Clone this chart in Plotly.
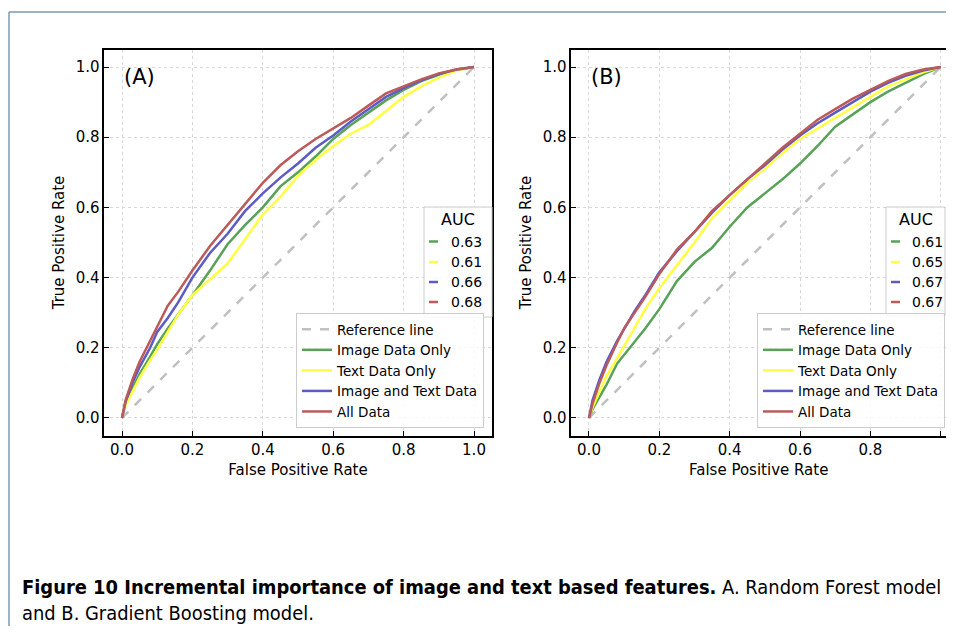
"""
ROC curves - incremental importance of image / text features (Plotly)
"""

import plotly.graph_objects as go

# page body has an 8px margin: the figure sits at (8, 8) and fits inside it
OFF = 8
W, H = 954 - 2 * OFF, 634 - 2 * OFF

# ---- data ----
series_names = ["Image Data Only", "Text Data Only", "Image and Text Data", "All Data"]
series_colors = ["#58a258", "#ffff44", "#5c5cc4", "#bc5a5a"]

fpr = [0, .01, .03, .05, .08, .1, .13, .16, .2, .25, .3, .35, .4,
       .45, .5, .55, .6, .65, .7, .75, .8, .85, .9, .95, 1]

# (A) Random Forest
a_image = [0, .04, .085, .125, .175, .21, .255, .295, .35, .42, .495, .55, .60,
           .66, .70, .745, .795, .835, .87, .905, .935, .96, .978, .992, 1]
a_text = [0, .035, .075, .115, .165, .195, .245, .295, .35, .395, .44, .51, .58,
          .63, .69, .735, .775, .81, .835, .875, .915, .945, .97, .99, 1]
a_both = [0, .045, .10, .145, .20, .245, .285, .33, .40, .47, .525, .59, .64,
          .685, .725, .77, .805, .845, .88, .915, .94, .962, .98, .993, 1]
a_all = [0, .05, .11, .16, .22, .26, .32, .36, .42, .49, .55, .61, .67,
         .72, .76, .795, .825, .855, .89, .925, .945, .965, .982, .993, 1]
auc_a = ["0.63", "0.61", "0.66", "0.68"]

# (B) Gradient Boosting
b_image = [0, .025, .06, .095, .155, .18, .215, .255, .31, .39, .445, .485, .545,
           .60, .64, .68, .725, .775, .83, .865, .90, .93, .955, .98, 1]
b_text = [0, .03, .075, .12, .17, .205, .26, .31, .37, .435, .50, .57, .62,
          .67, .71, .755, .795, .825, .855, .885, .915, .945, .965, .985, 1]
b_both = [0, .05, .11, .16, .22, .255, .305, .35, .415, .475, .53, .585, .635,
          .68, .72, .765, .805, .84, .87, .90, .93, .955, .975, .99, 1]
b_all = [0, .04, .10, .15, .215, .255, .30, .345, .41, .48, .53, .59, .635,
         .68, .725, .77, .81, .85, .88, .91, .935, .96, .98, .993, 1]
auc_b = ["0.61", "0.65", "0.67", "0.67"]

ref_line = [0, 1]
ticks = [0, 0.2, 0.4, 0.6, 0.8, 1.0]
tick_text = ["0.0", "0.2", "0.4", "0.6", "0.8", "1.0"]


def px(x):
    return (x - OFF) / W


def py(y):
    return 1 - (y - OFF) / H


FONT = "DejaVu Sans"

fig = go.Figure()

panels = [
    ("x", "y", "legend", [a_image, a_text, a_both, a_all]),
    ("x2", "y2", "legend2", [b_image, b_text, b_both, b_all]),
]
for xa, ya, leg, curves in panels:
    fig.add_trace(go.Scatter(
        x=ref_line, y=ref_line, mode="lines", name="Reference line",
        line=dict(color="#c0c0c0", width=2.5, dash="dash"),
        xaxis=xa, yaxis=ya, legend=leg,
    ))
    for name, color, tpr in zip(series_names, series_colors, curves):
        fig.add_trace(go.Scatter(
            x=fpr, y=tpr, mode="lines", name=name,
            line=dict(color=color, width=2.5),
            xaxis=xa, yaxis=ya, legend=leg,
        ))

axis_common = dict(
    tickvals=ticks, ticktext=tick_text,
    ticks="inside", ticklen=5, tickwidth=1, tickcolor="black",
    showline=True, linecolor="black", linewidth=1.5,
    showgrid=True, gridcolor="#d8d8d8", griddash="dot", gridwidth=1,
    zeroline=False,
    tickfont=dict(family=FONT, size=15, color="black"),
    title_font=dict(family=FONT, size=15, color="black"),
)

y_dom = [py(435.5), py(49.5)]
fig.update_layout(
    width=W, height=H,
    margin=dict(l=0, r=0, t=0, b=0),
    paper_bgcolor="white", plot_bgcolor="white",
    font=dict(family=FONT, color="black"),
    xaxis=dict(domain=[px(104.4), px(491.6)], range=[-0.05, 1.05], mirror=True,
               anchor="y", title=dict(text="False Positive Rate", standoff=6), **axis_common),
    yaxis=dict(domain=y_dom, range=[-0.05, 1.05], mirror=True, anchor="x",
               title=dict(text="True Positive Rate", standoff=8), **axis_common),
    xaxis2=dict(domain=[px(571.4), 1.0], range=[-0.05, 1.015], mirror=True,
                anchor="y2", title=dict(text="False Positive Rate", standoff=6), **axis_common),
    yaxis2=dict(domain=y_dom, range=[-0.05, 1.05], mirror=False, anchor="x2",
                title=dict(text="True Positive Rate", standoff=8), **axis_common),
    legend=dict(x=px(484), y=py(428), xanchor="right", yanchor="bottom",
                bgcolor="rgba(255,255,255,0.85)", bordercolor="#cccccc", borderwidth=1,
                font=dict(family=FONT, size=13.5), tracegroupgap=0),
    legend2=dict(x=px(945), y=py(428), xanchor="right", yanchor="bottom",
                 bgcolor="rgba(255,255,255,0.85)", bordercolor="#cccccc", borderwidth=1,
                 font=dict(family=FONT, size=13.5), tracegroupgap=0),
)

# panel labels
fig.add_annotation(text="(A)", x=px(122), y=py(77), xref="paper", yref="paper",
                   xanchor="left", yanchor="middle", showarrow=False,
                   font=dict(family=FONT, size=21, color="black"))
fig.add_annotation(text="(B)", x=px(589), y=py(77), xref="paper", yref="paper",
                   xanchor="left", yanchor="middle", showarrow=False,
                   font=dict(family=FONT, size=21, color="black"))

# AUC boxes (drawn manually, matplotlib-like short handles)
auc_boxes = [
    (auc_a, 424, 492, 207, 317, 429, 438, 449),
    (auc_b, 886, 945, 207, 316, 891, 900, 910),
]
entry_y = [241.5, 262, 282, 302]
for vals, x0, x1, y0, y1, h0, h1, tx in auc_boxes:
    fig.add_shape(type="rect", xref="paper", yref="paper",
                  x0=px(x0), x1=px(x1), y0=py(y1), y1=py(y0),
                  line=dict(color="#cccccc", width=1), fillcolor="rgba(255,255,255,0.85)")
    fig.add_annotation(text="AUC", x=px((x0 + x1) / 2), y=py(219), xref="paper", yref="paper",
                       xanchor="center", yanchor="middle", showarrow=False,
                       font=dict(family=FONT, size=16, color="black"))
    for v, color, ey in zip(vals, series_colors, entry_y):
        fig.add_shape(type="line", xref="paper", yref="paper",
                      x0=px(h0), x1=px(h1), y0=py(ey), y1=py(ey),
                      line=dict(color=color, width=2.5))
        fig.add_annotation(text=v, x=px(tx), y=py(ey), xref="paper", yref="paper",
                           xanchor="left", yanchor="middle", showarrow=False,
                           font=dict(family=FONT, size=14, color="black"))

# page frame
fig.add_shape(type="line", xref="paper", yref="paper", x0=px(9), x1=px(9), y0=0, y1=py(12),
              line=dict(color="#7d97b5", width=1.5))
fig.add_shape(type="line", xref="paper", yref="paper", x0=px(9), x1=1, y0=py(12), y1=py(12),
              line=dict(color="#7d97b5", width=1.5))

# caption
fig.add_annotation(
    text="<b>Figure 10 Incremental importance of image and text based features.</b>"
         " A. Random Forest model<br>and B. Gradient Boosting model.",
    x=px(20), y=py(574), xref="paper", yref="paper",
    xanchor="left", yanchor="top", align="left", showarrow=False,
    font=dict(family="DejaVu Sans Condensed", size=19.9, color="black"),
)

fig.write_html("out.html")
